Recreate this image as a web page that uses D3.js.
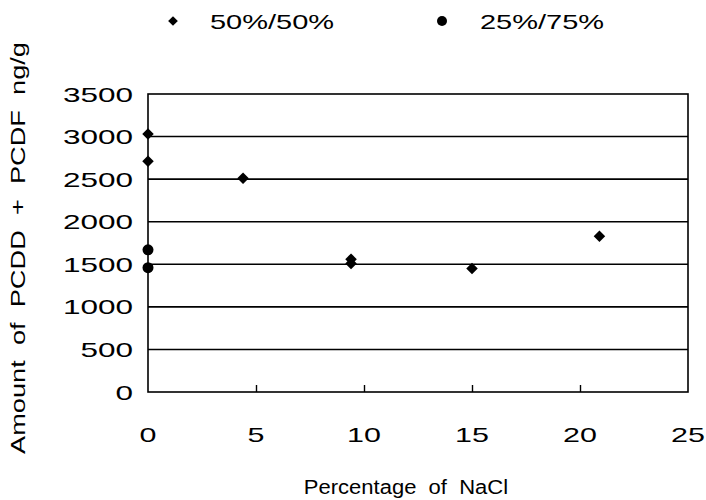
<!doctype html>
<html>
  <head>
    <script src="https://d3js.org/d3.v7.min.js"></script>
    <style>
      body { margin: 0; background: #fff; }
      text { font-family: "Liberation Sans", Arial, sans-serif; fill: #000; }
    </style>
  </head>
  <body>
    <svg id="chart" width="706" height="500"></svg>
    <script>
      // 50%/50% series (diamonds)
      var x50 = [0, 0, 4.4, 9.4, 9.4, 15.0, 20.9];
      var y50 = [3030, 2710, 2510, 1560, 1510, 1450, 1830];
      // 25%/75% series (circles)
      var x25 = [0, 0];
      var y25 = [1670, 1460];

      var xTicks = [0, 5, 10, 15, 20, 25];
      var yTicks = [0, 500, 1000, 1500, 2000, 2500, 3000, 3500];
      var seriesNames = ["50%/50%", "25%/75%"];

      var svg = d3.select("#chart"),
        pL = 148, pR = 688, pT = 94, pB = 392;

      var x = d3.scaleLinear().domain([0, 25]).range([pL, pR]);
      var y = d3.scaleLinear().domain([0, 3500]).range([pB, pT]);

      // stretch text sideways, the original font is very wide
      function stretch(sel, k) {
        sel.each(function() {
          var w = this.getComputedTextLength();
          d3.select(this).attr("textLength", w * k).attr("lengthAdjust", "spacingAndGlyphs");
        });
      }

      // gridlines
      svg.append("g").selectAll("line")
        .data(yTicks.filter(function(d){ return d > 0 && d < 3500; }))
        .enter().append("line")
        .attr("x1", pL).attr("x2", pR)
        .attr("y1", function(d){ return y(d); })
        .attr("y2", function(d){ return y(d); })
        .attr("stroke", "#000").attr("stroke-width", 1.6);

      // frame
      svg.append("rect")
        .attr("x", pL).attr("y", pT)
        .attr("width", pR - pL).attr("height", pB - pT)
        .attr("fill", "none").attr("stroke", "#000").attr("stroke-width", 1.6);

      // x axis, ticks pointing in
      var xg = svg.append("g").attr("transform", "translate(0," + pB + ")")
        .call(d3.axisTop(x).tickValues(xTicks.slice(1, 5)).tickSize(7).tickFormat(""));
      xg.select(".domain").remove();
      xg.selectAll("line").attr("stroke-width", 1.4);

      var xl = svg.append("g").selectAll("text")
        .data(xTicks).enter().append("text")
        .attr("x", function(d){ return x(d); })
        .attr("y", 442)
        .attr("text-anchor", "middle")
        .style("font-size", "21px")
        .text(function(d){ return d; });
      stretch(xl, 1.45);

      var yl = svg.append("g").selectAll("text")
        .data(yTicks).enter().append("text")
        .attr("x", 133)
        .attr("y", function(d){ return y(d) + 7.5; })
        .attr("text-anchor", "end")
        .style("font-size", "21px")
        .text(function(d){ return d; });
      stretch(yl, 1.5);

      // axis titles
      var xt = svg.append("text")
        .attr("x", 406).attr("y", 494)
        .attr("text-anchor", "middle")
        .style("font-size", "20px")
        .attr("xml:space", "preserve")
        .text("Percentage  of  NaCl");
      stretch(xt, 1.1);

      var yt = svg.append("text")
        .attr("transform", "translate(25,248) rotate(-90)")
        .attr("text-anchor", "middle")
        .style("font-size", "20px")
        .attr("xml:space", "preserve")
        .text("Amount  of  PCDD  +  PCDF  ng/g");
      stretch(yt, 1.36);

      var diamond = d3.symbol().type(d3.symbolDiamond2).size(85);

      // points
      svg.append("g").selectAll("path")
        .data(d3.range(x50.length)).enter().append("path")
        .attr("d", diamond)
        .attr("transform", function(i){ return "translate(" + x(x50[i]) + "," + y(y50[i]) + ")"; })
        .attr("fill", "#000");

      svg.append("g").selectAll("circle")
        .data(d3.range(x25.length)).enter().append("circle")
        .attr("cx", function(i){ return x(x25[i]); })
        .attr("cy", function(i){ return y(y25[i]); })
        .attr("r", 5.5)
        .attr("fill", "#000");

      // legend
      svg.append("path").attr("d", d3.symbol().type(d3.symbolDiamond2).size(60))
        .attr("transform", "translate(173,21)").attr("fill", "#000");
      svg.append("circle").attr("cx", 442).attr("cy", 21).attr("r", 5).attr("fill", "#000");
      var lg = svg.append("g").selectAll("text")
        .data(seriesNames).enter().append("text")
        .attr("x", function(d, i){ return i === 0 ? 210 : 480; })
        .attr("y", 29)
        .style("font-size", "21px")
        .text(function(d){ return d; });
      stretch(lg, 1.38);
    </script>
  </body>
</html>
